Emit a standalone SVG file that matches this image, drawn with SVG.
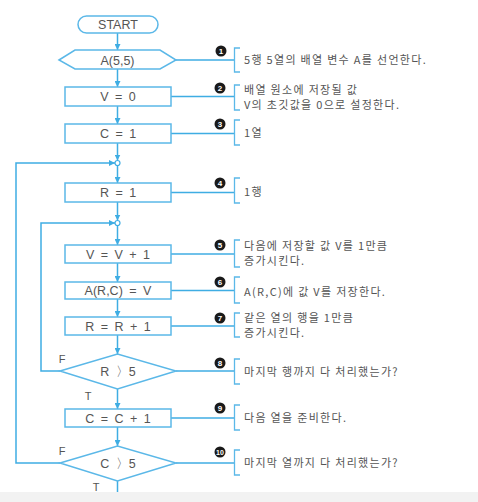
<svg xmlns="http://www.w3.org/2000/svg" width="478" height="502" viewBox="0 0 478 502">
<defs>
<marker id="ah" viewBox="0 0 8 8" refX="8" refY="4" markerWidth="6" markerHeight="6" markerUnits="userSpaceOnUse" orient="auto">
<path d="M0,0 L8,4 L0,8 Z" fill="#3fade3"/>
</marker>
<style>
.s{fill:#fff;stroke:#5bb8e8;stroke-width:1.5}
.c{fill:none;stroke:#3fade3;stroke-width:1.5}
.a{marker-end:url(#ah)}
.t{font-family:"Liberation Sans",Arial,sans-serif;font-size:12.5px;fill:#555;text-anchor:middle;word-spacing:3px}
.k{font-family:"Noto Sans CJK KR","Liberation Sans",sans-serif;font-size:11px;fill:#555;letter-spacing:1.3px}
.l{font-family:"Liberation Sans",Arial,sans-serif;font-size:11px;fill:#555;text-anchor:middle}
.b{fill:none;stroke:#5bb8e8;stroke-width:1.3}
.nc{fill:#1a1a1a}
.nt{font-family:"Liberation Sans",Arial,sans-serif;font-size:8px;font-weight:bold;fill:#fff;text-anchor:middle}
</style>
</defs>
<rect x="0" y="0" width="478" height="502" fill="#fff"/>
<rect x="0" y="492" width="478" height="10" fill="#f2f2f2"/>

<g id="connectors">
<path class="c a" d="M117.5,33 V50"/>
<path class="c a" d="M117.5,69 V87"/>
<path class="c a" d="M117.5,106 V124"/>
<path class="c a" d="M117.5,143 V160.5"/>
<path class="c a" d="M117.5,165.5 V183"/>
<path class="c a" d="M117.5,202 V220.5"/>
<path class="c a" d="M117.5,225.5 V245"/>
<path class="c a" d="M117.5,263 V282"/>
<path class="c a" d="M117.5,299 V317"/>
<path class="c a" d="M117.5,335 V354"/>
<path class="c a" d="M117.5,389 V409"/>
<path class="c a" d="M117.5,427 V446"/>
<path class="c" d="M117.5,481 V492"/>
<path class="c a" d="M60,371 H41 V223 H115"/>
<path class="c a" d="M60,463 H16 V163 H115"/>
<circle cx="117.5" cy="163" r="2.5" fill="#fff" stroke="#3fade3" stroke-width="1.2"/>
<circle cx="117.5" cy="223" r="2.5" fill="#fff" stroke="#3fade3" stroke-width="1.2"/>
<path class="c" d="M176,60 H234"/>
<path class="c" d="M171,96.5 H234"/>
<path class="c" d="M171,133.5 H234"/>
<path class="c" d="M171,192.5 H234"/>
<path class="c" d="M171,254 H234"/>
<path class="c" d="M171,290.5 H234"/>
<path class="c" d="M171,326 H234"/>
<path class="c" d="M176,371 H234"/>
<path class="c" d="M171,418 H234"/>
<path class="c" d="M176,463 H234"/>
<text class="l" x="62" y="363">F</text>
<text class="l" x="88" y="400">T</text>
<text class="l" x="62" y="455">F</text>
<text class="l" x="96" y="491">T</text>
</g>

<g id="start"><rect class="s" x="78" y="16" width="80" height="17" rx="8.5"/><text class="t" x="118" y="29">START</text></g>
<g id="n1"><polygon class="s" points="59,60 75,50 160,50 176,60 160,69 75,69"/><text class="t" x="117.5" y="64.5">A(5,5)</text></g>
<g id="n2"><rect class="s" x="65" y="87" width="106" height="19"/><text class="t" x="118" y="101">V = 0</text></g>
<g id="n3"><rect class="s" x="65" y="124" width="106" height="19"/><text class="t" x="118" y="138">C = 1</text></g>
<g id="n4"><rect class="s" x="65" y="183" width="106" height="19"/><text class="t" x="118" y="197">R = 1</text></g>
<g id="n5"><rect class="s" x="65" y="245" width="106" height="18"/><text class="t" x="118" y="258.5">V = V + 1</text></g>
<g id="n6"><rect class="s" x="65" y="282" width="106" height="17"/><text class="t" x="118" y="295">A(R,C) = V</text></g>
<g id="n7"><rect class="s" x="65" y="317" width="106" height="18"/><text class="t" x="118" y="330.5">R = R + 1</text></g>
<g id="n8"><polygon class="s" points="60,371 117.5,354 176,371 117.5,389"/><text class="t" x="118" y="375.5">R 〉5</text></g>
<g id="n9"><rect class="s" x="65" y="409" width="106" height="18"/><text class="t" x="118" y="422.5">C = C + 1</text></g>
<g id="n10"><polygon class="s" points="60,463 117.5,446 176,463 117.5,481"/><text class="t" x="118" y="467.5">C 〉5</text></g>

<g id="note1"><path class="b" d="M240,48 H234.5 V72 H240"/><circle class="nc" cx="221" cy="51" r="5.5"/><text class="nt" x="221" y="53.8">1</text><text class="k" x="244" y="64">5행 5열의 배열 변수 A를 선언한다.</text></g>
<g id="note2"><path class="b" d="M240,85 H234.5 V110 H240"/><circle class="nc" cx="220" cy="88" r="5.5"/><text class="nt" x="220" y="90.8">2</text><text class="k" x="244" y="94">배열 원소에 저장될 값</text><text class="k" x="244" y="109">V의 초깃값을 0으로 설정한다.</text></g>
<g id="note3"><path class="b" d="M240,120 H234.5 V145 H240"/><circle class="nc" cx="220" cy="124" r="5.5"/><text class="nt" x="220" y="126.8">3</text><text class="k" x="244" y="137">1열</text></g>
<g id="note4"><path class="b" d="M240,178 H234.5 V203 H240"/><circle class="nc" cx="220" cy="183" r="5.5"/><text class="nt" x="220" y="185.8">4</text><text class="k" x="244" y="196">1행</text></g>
<g id="note5"><path class="b" d="M240,240 H234.5 V267 H240"/><circle class="nc" cx="220" cy="245" r="5.5"/><text class="nt" x="220" y="247.8">5</text><text class="k" x="244" y="250">다음에 저장할 값 V를 1만큼</text><text class="k" x="244" y="265">증가시킨다.</text></g>
<g id="note6"><path class="b" d="M240,277 H234.5 V303 H240"/><circle class="nc" cx="220" cy="282" r="5.5"/><text class="nt" x="220" y="284.8">6</text><text class="k" x="244" y="296">A(R,C)에 값 V를 저장한다.</text></g>
<g id="note7"><path class="b" d="M240,313 H234.5 V337 H240"/><circle class="nc" cx="220" cy="318" r="5.5"/><text class="nt" x="220" y="320.8">7</text><text class="k" x="244" y="322">같은 열의 행을 1만큼</text><text class="k" x="244" y="337">증가시킨다.</text></g>
<g id="note8"><path class="b" d="M240,359 H234.5 V384 H240"/><circle class="nc" cx="220" cy="363" r="5.5"/><text class="nt" x="220" y="365.8">8</text><text class="k" x="244" y="376">마지막 행까지 다 처리했는가?</text></g>
<g id="note9"><path class="b" d="M240,405 H234.5 V430 H240"/><circle class="nc" cx="220" cy="408" r="5.5"/><text class="nt" x="220" y="410.8">9</text><text class="k" x="244" y="422">다음 열을 준비한다.</text></g>
<g id="note10"><path class="b" d="M240,450 H234.5 V475 H240"/><circle class="nc" cx="220" cy="452" r="5.5"/><text class="nt" x="220" y="454.5" style="font-size:7px">10</text><text class="k" x="244" y="467">마지막 열까지 다 처리했는가?</text></g>
</svg>
